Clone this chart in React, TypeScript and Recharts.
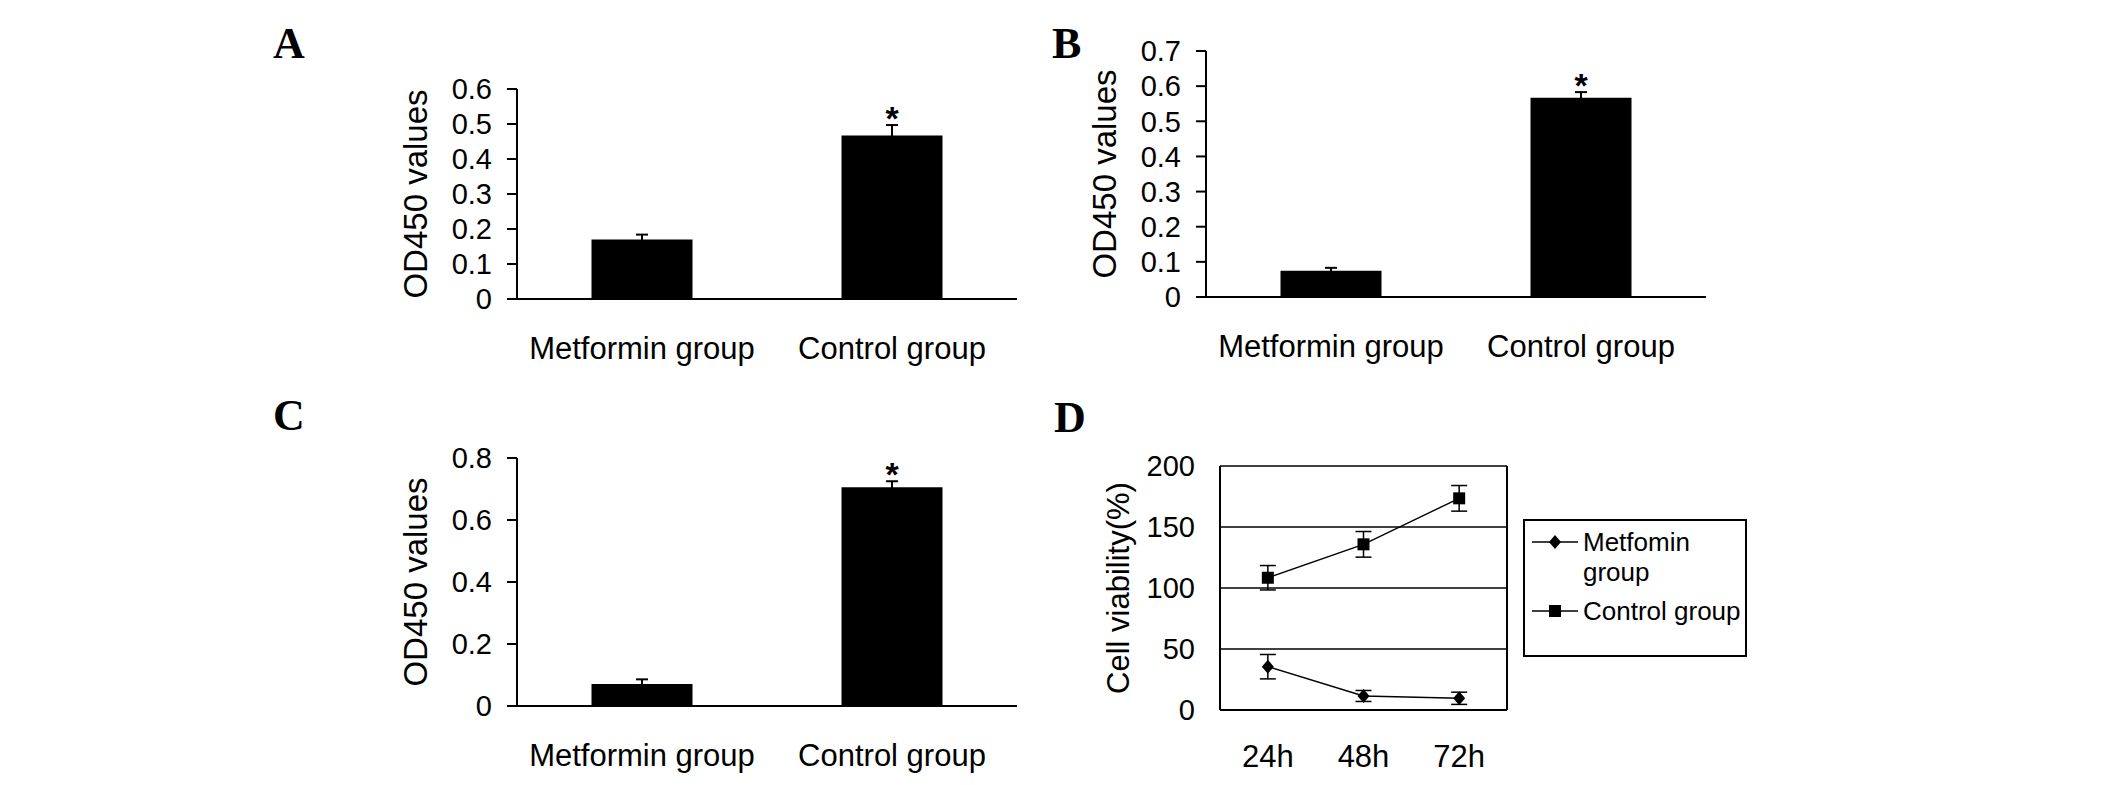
import React from 'react';
import {
  BarChart,
  Bar,
  XAxis,
  YAxis,
  ErrorBar,
  LabelList,
  LineChart,
  Line,
  CartesianGrid,
  Legend,
} from 'recharts';

// ---------- data ----------
const groups = ['Metformin group', 'Control group'];
const odA = [0.17, 0.467];
const errA = [0.014, 0.03];
const odB = [0.075, 0.567];
const errB = [0.008, 0.016];
const odC = [0.071, 0.706];
const errC = [0.015, 0.019];
const sigMarks = ['', '*'];
const ticksA = [0, 0.1, 0.2, 0.3, 0.4, 0.5, 0.6];
const ticksB = [0, 0.1, 0.2, 0.3, 0.4, 0.5, 0.6, 0.7];
const ticksC = [0, 0.2, 0.4, 0.6, 0.8];
const groupBoundaryTicks = [0, 1, 2];

const hours = ['24h', '48h', '72h'];
const metforminViability = [35.5, 11.5, 9.6];
const metforminErr = [10, 4.5, 5];
const controlViability = [108.4, 135.8, 173.5];
const controlErr = [10, 10.5, 10.5];
const viabilityTicks = [0, 50, 100, 150, 200];
const hourBoundaryTicks = [1, 2];
const seriesNames = ['Metfomin group', 'Control group'];
const panelLetters = ['A', 'B', 'C', 'D'];

// ---------- styles ----------
const FONT = '"Liberation Sans", Arial, Helvetica, sans-serif';
const AXIS = { stroke: '#000', strokeWidth: 2 };
const TICK_FONT = { fill: '#000', fontSize: 29, fontFamily: FONT };
const CAT_FONT = { fill: '#000', fontSize: 31, fontFamily: FONT };

const yLabel = (text: string, size: number) => ({
  content: (props: any) => {
    const vb = props.viewBox || {};
    const cx = vb.x + vb.width - 102;
    const cy = vb.y + vb.height / 2;
    return (
      <text
        x={cx}
        y={cy}
        transform={`rotate(-90 ${cx} ${cy})`}
        textAnchor="middle"
        dominantBaseline="central"
        fill="#000"
        fontSize={size}
        fontFamily={FONT}
      >
        {text}
      </text>
    );
  },
});

const fmtOD = (v: number) => (v === 0 ? '0' : v.toFixed(1));

function BarPanel(props: {
  left: number;
  top: number;
  plotHeight: number;
  values: number[];
  errs: number[];
  ticks: number[];
}) {
  const { left, top, plotHeight, values, errs, ticks } = props;
  const data = groups.map((name, i) => ({
    name,
    value: values[i],
    err: errs[i],
    sig: sigMarks[i],
  }));
  const mTop = 30;
  const width = 700;
  const height = mTop + plotHeight + 13 + 60;
  const star = (p: any) => {
    const vb = p.viewBox && p.viewBox.width !== undefined ? p.viewBox : p;
    const idx = p.index;
    const mark = sigMarks[idx];
    if (!mark) return null;
    const ppu = vb.height / values[idx];
    const errTop = vb.y - errs[idx] * ppu;
    return (
      <text
        x={vb.x + vb.width / 2}
        y={errTop + 5}
        textAnchor="middle"
        fill="#000"
        fontSize={34}
        fontWeight="bold"
        fontFamily={FONT}
      >
        {mark}
      </text>
    );
  };
  return (
    <div style={{ position: 'absolute', left, top, width, height }}>
      <BarChart
        width={width}
        height={height}
        data={data}
        margin={{ top: mTop, right: 43, bottom: 0, left: 0 }}
        barCategoryGap="29.8%"
      >
        <XAxis
          xAxisId="bounds"
          type="number"
          domain={[0, 2]}
          ticks={groupBoundaryTicks}
          allowDataOverflow
          tick={false}
          tickSize={13}
          height={13}
          axisLine={AXIS}
          tickLine={AXIS}
        />
        <XAxis
          xAxisId="cat"
          dataKey="name"
          type="category"
          height={60}
          axisLine={false}
          tickLine={false}
          tickSize={0}
          tickMargin={25}
          interval={0}
          tick={CAT_FONT}
        />
        <YAxis
          type="number"
          domain={[0, ticks[ticks.length - 1]]}
          ticks={ticks}
          interval={0}
          allowDataOverflow
          width={157}
          tickSize={10}
          tickMargin={15}
          tickFormatter={fmtOD}
          axisLine={AXIS}
          tickLine={AXIS}
          tick={TICK_FONT}
          label={yLabel('OD450 values', 33)}
        />
        <Bar xAxisId="cat" dataKey="value" fill="#000" isAnimationActive={false}>
          <ErrorBar dataKey="err" width={6} stroke="#000" strokeWidth={2} direction="y" />
          <LabelList dataKey="sig" content={star} />
        </Bar>
      </BarChart>
    </div>
  );
}

const Diamond = (p: any) => {
  const { cx, cy } = p;
  if (cx == null || cy == null) return null;
  return (
    <polygon
      points={`${cx},${cy - 7} ${cx + 6},${cy} ${cx},${cy + 7} ${cx - 6},${cy}`}
      fill="#000"
    />
  );
};
const Square = (p: any) => {
  const { cx, cy } = p;
  if (cx == null || cy == null) return null;
  return <rect x={cx - 6} y={cy - 6} width={12} height={12} fill="#000" />;
};
const legendMarkers = ['diamond', 'square'];

const renderLegend = (props: any) => {
  const payload = [...(props.payload || [])].sort(
    (a: any, b: any) => seriesNames.indexOf(a.value) - seriesNames.indexOf(b.value)
  );
  return (
    <div
      style={{
        boxSizing: 'border-box',
        width: 224,
        height: 138,
        border: '2px solid #000',
        padding: '6px 0 0 7px',
        background: '#fff',
        fontFamily: FONT,
        fontSize: 26,
        color: '#000',
      }}
    >
      {payload.map((entry: any, i: number) => {
        const marker = legendMarkers[seriesNames.indexOf(entry.value)];
        return (
          <div
            key={entry.value}
            style={{ display: 'flex', alignItems: 'flex-start', marginTop: i === 0 ? 0 : 9 }}
          >
            <svg width={46} height={30} style={{ flex: 'none', marginRight: 5 }}>
              <line x1={0} y1={15} x2={46} y2={15} stroke="#000" strokeWidth={1.5} />
              {marker === 'diamond' ? <Diamond cx={23} cy={15} /> : <Square cx={23} cy={15} />}
            </svg>
            <span style={{ width: 164, lineHeight: '30px', display: 'inline-block' }}>
              {entry.value}
            </span>
          </div>
        );
      })}
    </div>
  );
};

function LinePanel() {
  const data = hours.map((h, i) => ({
    name: h,
    met: metforminViability[i],
    metE: metforminErr[i],
    con: controlViability[i],
    conE: controlErr[i],
  }));
  const left = 1063;
  const top = 436;
  const width = 697;
  const height = 30 + 244 + 1 + 72;
  return (
    <div style={{ position: 'absolute', left, top, width, height }}>
      <LineChart
        width={width}
        height={height}
        data={data}
        margin={{ top: 30, right: 252, bottom: 0, left: 0 }}
      >
        <CartesianGrid xAxisId="cat" vertical={false} stroke="#000" strokeWidth={1.5} />
        <XAxis
          xAxisId="bounds"
          type="number"
          domain={[0, 3]}
          ticks={hourBoundaryTicks}
          allowDataOverflow
          tick={false}
          tickSize={-8}
          height={1}
          axisLine={AXIS}
          tickLine={AXIS}
        />
        <XAxis
          xAxisId="cat"
          dataKey="name"
          type="category"
          scale="band"
          height={72}
          axisLine={false}
          tickLine={false}
          tickSize={0}
          tickMargin={34}
          interval={0}
          tick={CAT_FONT}
        />
        <YAxis
          type="number"
          domain={[0, 200]}
          ticks={viabilityTicks}
          interval={0}
          allowDataOverflow
          width={157}
          tickLine={false}
          tickSize={0}
          tickMargin={25}
          axisLine={AXIS}
          tick={TICK_FONT}
          label={yLabel('Cell viability(%)', 31)}
        />
        <YAxis
          yAxisId="r"
          orientation="right"
          type="number"
          domain={[0, 200]}
          allowDataOverflow
          width={1}
          tick={false}
          tickLine={false}
          axisLine={AXIS}
        />
        <Line
          xAxisId="cat"
          dataKey="met"
          name={seriesNames[0]}
          stroke="#000"
          strokeWidth={1.4}
          dot={<Diamond />}
          activeDot={false}
          isAnimationActive={false}
        >
          <ErrorBar dataKey="metE" width={8} stroke="#000" strokeWidth={1.5} direction="y" />
        </Line>
        <Line
          xAxisId="cat"
          dataKey="con"
          name={seriesNames[1]}
          stroke="#000"
          strokeWidth={1.4}
          dot={<Square />}
          activeDot={false}
          isAnimationActive={false}
        >
          <ErrorBar dataKey="conE" width={8} stroke="#000" strokeWidth={1.5} direction="y" />
        </Line>
        <Legend
          layout="horizontal"
          verticalAlign="middle"
          align="center"
          content={renderLegend}
          wrapperStyle={{ left: 460, top: 83, width: 224, height: 138 }}
        />
      </LineChart>
    </div>
  );
}

const letterPos = [
  { left: 273, top: 22 },
  { left: 1052, top: 22 },
  { left: 273, top: 394 },
  { left: 1054, top: 396 },
];

export default function App() {
  return (
    <div
      style={{
        position: 'absolute',
        left: 0,
        top: 0,
        width: 2126,
        height: 785,
        background: '#fff',
        overflow: 'hidden',
        fontFamily: FONT,
      }}
    >
      {panelLetters.map((l, i) => (
        <div
          key={l}
          style={{
            position: 'absolute',
            left: letterPos[i].left,
            top: letterPos[i].top,
            fontFamily: '"Liberation Serif", "Times New Roman", serif',
            fontWeight: 'bold',
            fontSize: 44,
            lineHeight: '44px',
            color: '#000',
          }}
        >
          {l}
        </div>
      ))}
      <BarPanel left={360} top={59} plotHeight={210} values={odA} errs={errA} ticks={ticksA} />
      <BarPanel left={1049} top={21} plotHeight={246} values={odB} errs={errB} ticks={ticksB} />
      <BarPanel left={360} top={428} plotHeight={248} values={odC} errs={errC} ticks={ticksC} />
      <LinePanel />
    </div>
  );
}
